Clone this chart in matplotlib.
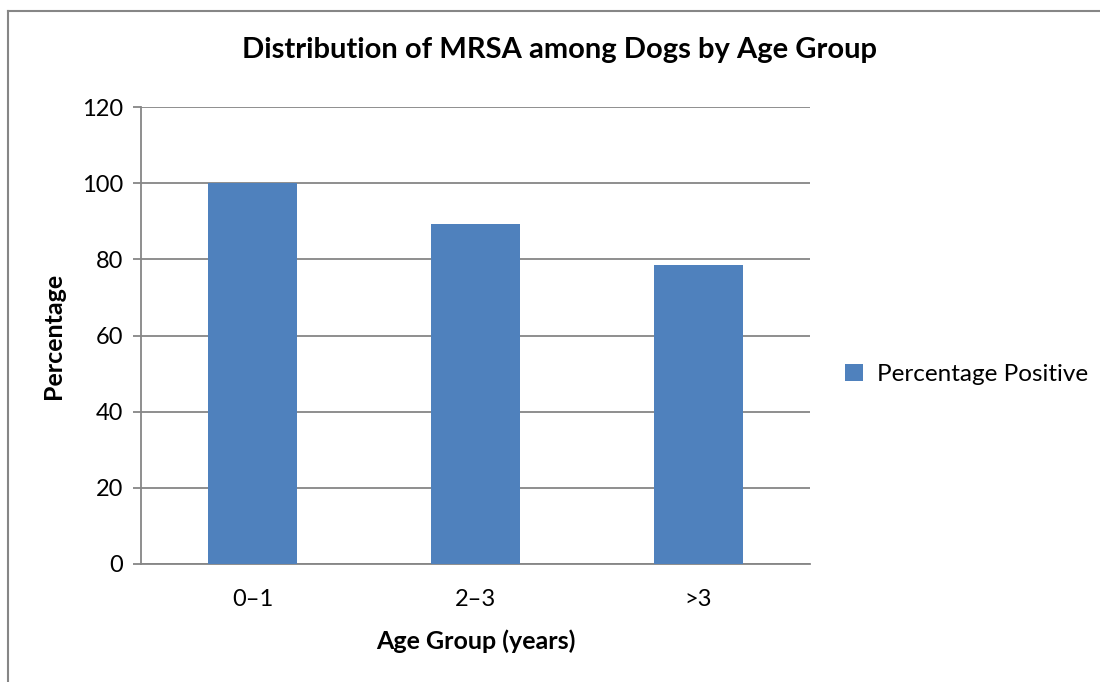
import matplotlib
matplotlib.use("Agg")
import matplotlib.pyplot as plt
from matplotlib.lines import Line2D

plt.rcParams["font.family"] = ["Lato", "DejaVu Sans"]

age_groups = ["0–1", "2–3", ">3"]
pct_positive = [100, 89.3, 78.4]
y_ticks = [0, 20, 40, 60, 80, 100, 120]

BAR_COLOR = "#4F81BD"
AXIS_GREY = "#868686"

fig = plt.figure(figsize=(11, 6.82), dpi=100)
ax = fig.add_axes([141 / 1100, 1 - 564 / 682, (810 - 141) / 1100, (564 - 107) / 682])

x = range(len(age_groups))
ax.bar(x, pct_positive, width=0.4, color=BAR_COLOR, label="Percentage Positive", zorder=3)

ax.set_xlim(-0.5, len(age_groups) - 0.5)
ax.set_ylim(0, 120)
ax.set_yticks(y_ticks)
ax.set_xticks(list(x))
ax.set_xticklabels(age_groups)
ax.grid(axis="y", color=AXIS_GREY, lw=1.3, zorder=0)

for side in ["top", "right"]:
    ax.spines[side].set_visible(False)
for side in ["left", "bottom"]:
    ax.spines[side].set_color(AXIS_GREY)
    ax.spines[side].set_linewidth(1.3)

ax.tick_params(axis="y", length=6, width=1.3, color=AXIS_GREY, pad=7, labelsize=17)
ax.tick_params(axis="x", length=0, pad=18, labelsize=17)

fig.text(559 / 1100, 1 - 50 / 682, "Distribution of MRSA among Dogs by Age Group",
         fontsize=21, fontweight="bold", ha="center", va="center")
ax.set_xlabel("Age Group (years)", fontsize=18, fontweight="bold", labelpad=14)
ax.set_ylabel("Percentage", fontsize=18, fontweight="bold", labelpad=12)

ax.legend(loc="center left", bbox_to_anchor=(1.02, 0.415), frameon=False,
          fontsize=17.5, handlelength=0.75, handleheight=0.75, handletextpad=0.55)

# outer chart border: only its left and top edges fall inside the picture
bx, by = 7.5 / 1100, 1 - 11 / 682
fig.lines.append(Line2D([bx, bx], [0, by], transform=fig.transFigure,
                        color=AXIS_GREY, lw=1.5))
fig.lines.append(Line2D([bx, 1], [by, by], transform=fig.transFigure,
                        color=AXIS_GREY, lw=1.5))

fig.savefig("out.png", dpi=100)
